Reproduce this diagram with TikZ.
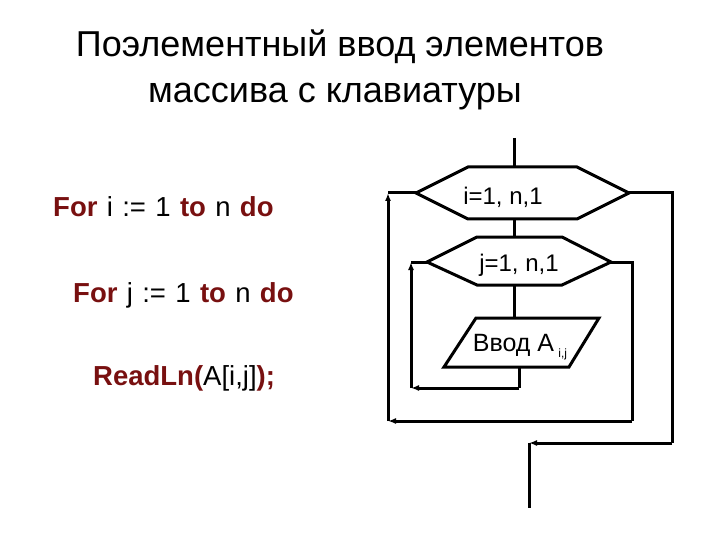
\documentclass[tikz,border=0pt]{standalone}
\usepackage{fontspec}
\setmainfont{Liberation Sans}
\usetikzlibrary{arrows.meta}
\definecolor{kw}{RGB}{120,16,16}
\tikzset{
  ln/.style={line width=3pt, line join=miter},
  arr/.style={ln, -{Latex[length=8pt,width=6pt]}},
  title/.style={font=\fontsize{36}{42}\selectfont, anchor=base, inner sep=0pt},
  code/.style={font=\fontsize{27.5}{32}\selectfont, anchor=base west, inner sep=0pt},
  flow/.style={font=\fontsize{24}{28}\selectfont, anchor=base, inner sep=0pt},
}
\newcommand{\kwd}[1]{\textcolor{kw}{\textbf{#1}}}
\newcommand{\widesp}{\spaceskip=0.34em\relax}
\begin{document}
\begin{tikzpicture}[x=1pt,y=-1pt]
\useasboundingbox (0,0) rectangle (720,540);
% titles
\node[title] (t1) at (340,57) {Поэлементный ввод элементов};
\node[title] (t2) at (335,103) {массива с клавиатуры};
% code
\node[code] (c1) at (53,216) {\widesp\kwd{For} i := 1 \kwd{to} n \kwd{do}};
\node[code] (c2) at (73,302) {\widesp\kwd{For} j := 1 \kwd{to} n \kwd{do}};
\node[code] (c3) at (93,385) {\kwd{ReadLn(}A[i,j]\kwd{);}};
% coordinates of the flowchart
\coordinate (start) at (514,138);
\coordinate (h1t) at (514,167);
\coordinate (h1b) at (514,219);
\coordinate (h1l) at (416,193);
\coordinate (h1r) at (629,193);
\coordinate (h2t) at (514,237);
\coordinate (h2b) at (514,285);
\coordinate (h2l) at (427,262);
\coordinate (h2r) at (611,262);
\coordinate (pt) at (514,318);
\coordinate (pb) at (519,367);
% hexagon 1
\draw[ln] (h1l) -- (468,167) -- (577,167) -- (h1r) -- (577,219) -- (468,219) -- cycle;
\node[flow] (l1) at (503,205) {i=1, n,1};
% hexagon 2
\draw[ln] (h2l) -- (477,237) -- (562,237) -- (h2r) -- (562,285) -- (477,285) -- cycle;
\node[flow] (l2) at (519,271) {j=1, n,1};
% parallelogram
\draw[ln] (476,318) -- (599,318) -- (569,367) -- (444,367) -- cycle;
\node[flow, font=\fontsize{25}{29}\selectfont] (l3) at (520,351) {Ввод А\,\raisebox{-6pt}{\fontsize{12}{14}\selectfont i,j}};
% connectors
\coordinate (in1) at (519,388);
\coordinate (in2) at (411,388);
\coordinate (in3) at (411,262);
\coordinate (o1) at (632,262);
\coordinate (o2) at (632,421);
\coordinate (o3) at (388,421);
\coordinate (o4) at (388,193);
\coordinate (e1) at (672,193);
\coordinate (e2) at (672,443);
\coordinate (e3) at (529,443);
\coordinate (e4) at (529,508);
\draw[ln] (start) -- (h1t);
\draw[ln] (h1b) -- (h2t);
\draw[ln] (h2b) -- (pt);
\draw[ln] (pb) -- (in1);
\draw[arr] (in1) -- (in2);
\draw[arr] (in2) -- (in3);
\draw[ln] (in3) -- (h2l);
\draw[ln] (h2r) -- (o1) -- (o2);
\draw[arr] (o2) -- (o3);
\draw[arr] (o3) -- (o4);
\draw[ln] (o4) -- (h1l);
\draw[ln] (h1r) -- (e1) -- (e2);
\draw[arr] (e2) -- (e3);
\draw[ln] (e3) -- (e4);
\end{tikzpicture}
\end{document}
